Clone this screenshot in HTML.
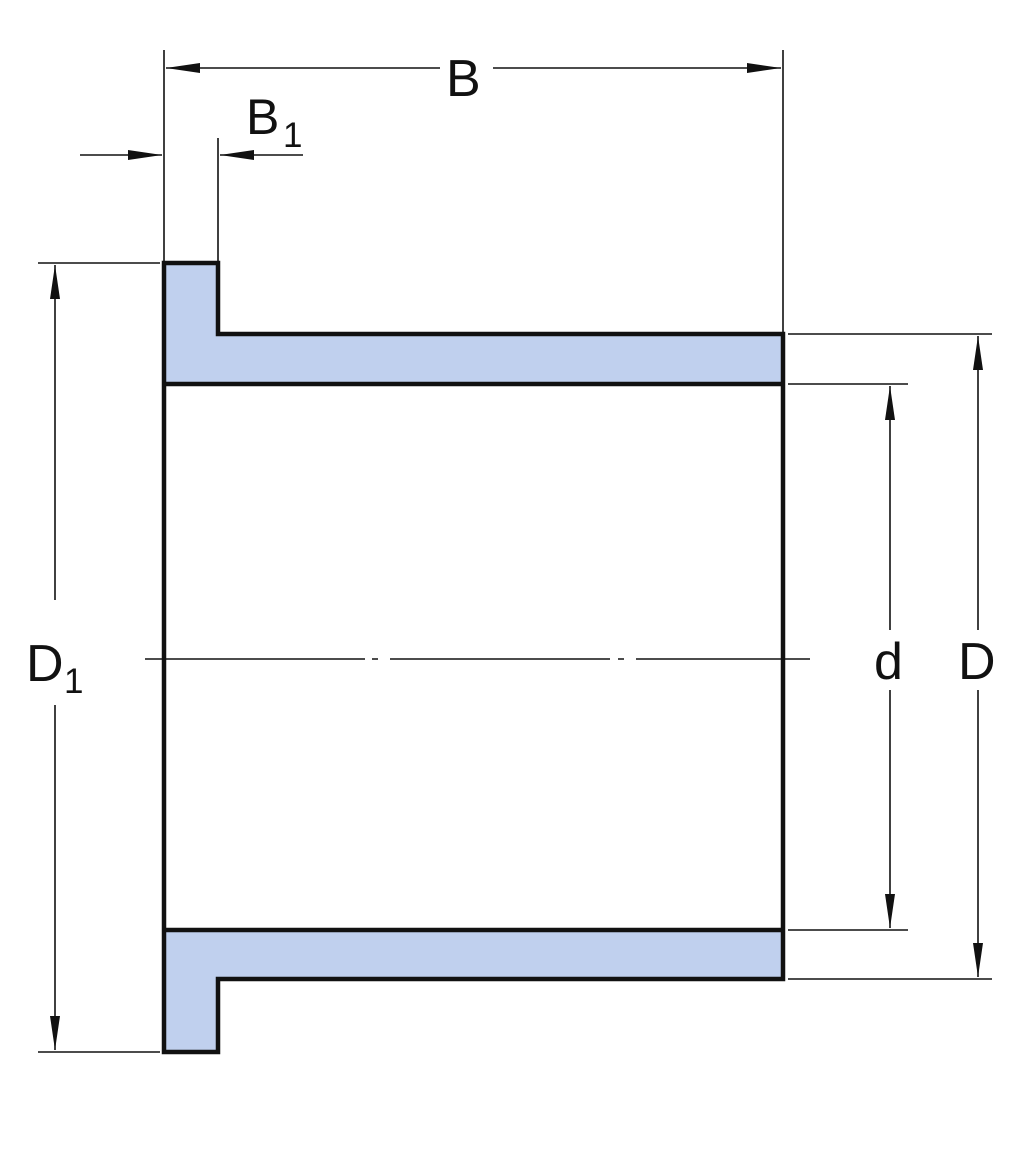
<!DOCTYPE html>
<html><head><style>html,body{margin:0;padding:0;background:#fff}svg{display:block}</style></head>
<body>
<svg width="1024" height="1150" viewBox="0 0 1024 1150" xmlns="http://www.w3.org/2000/svg" font-family="Liberation Sans, sans-serif">
<defs>
<marker id="h" viewBox="0 0 34 10" refX="34" refY="5" markerWidth="34" markerHeight="10" markerUnits="userSpaceOnUse" orient="auto"><path d="M0,0 L34,5 L0,10 Z" fill="#111"/></marker>
</defs>
<path d="M164,263 H218 V334 H783 V384 H164 Z" fill="#c0d0ee"/>
<path d="M164,930 H783 V979 H218 V1052 H164 Z" fill="#c0d0ee"/>
<g fill="none" stroke="#111" stroke-width="4.5">
<path d="M164,263 H218 V334 H783 V979 H218 V1052 H164 Z"/>
<path d="M164,384 H783 M164,930 H783"/>
</g>
<g stroke="#111" stroke-width="1.6" fill="none">
<path d="M164,50 V261 M783,50 V332 M218,138 V261"/>
<path d="M38,263 H160 M38,1052 H160"/>
<path d="M788,334 H992 M788,384 H908 M788,930 H908 M788,979 H992"/>
<path d="M145,659 H365 M372,659 H378 M390,659 H610 M618,659 H624 M636,659 H810"/>
<path d="M440,68 H166" marker-end="url(#h)"/>
<path d="M493,68 H781" marker-end="url(#h)"/>
<path d="M80,155 H162" marker-end="url(#h)"/>
<path d="M303,155 H220" marker-end="url(#h)"/>
<path d="M55,600 V265" marker-end="url(#h)"/>
<path d="M55,705 V1050" marker-end="url(#h)"/>
<path d="M890,630 V386" marker-end="url(#h)"/>
<path d="M890,690 V928" marker-end="url(#h)"/>
<path d="M978,630 V336" marker-end="url(#h)"/>
<path d="M978,690 V977" marker-end="url(#h)"/>
</g>
<g fill="#111">
<text x="446" y="96" font-size="52">B</text>
<text x="246" y="134" font-size="50">B</text>
<text x="283" y="147" font-size="35">1</text>
<text x="26" y="681" font-size="52">D</text>
<text x="64" y="693" font-size="35">1</text>
<text x="874" y="679" font-size="52">d</text>
<text x="958" y="679" font-size="52">D</text>
</g>
</svg>
</body></html>
